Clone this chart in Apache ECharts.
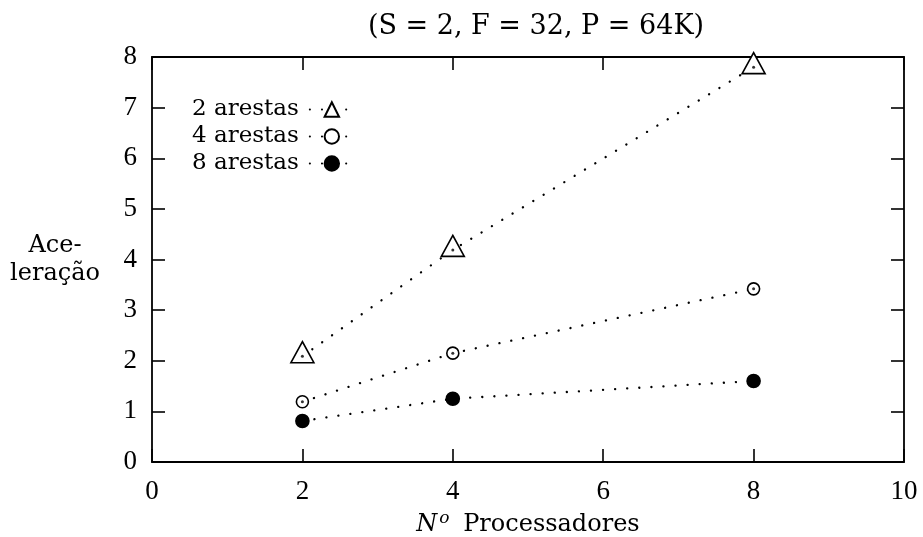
<!DOCTYPE html>
<html>
<head>
<meta charset="utf-8">
<script src="https://cdn.jsdelivr.net/npm/echarts@6/dist/echarts.min.js"></script>
<style>
  html, body { margin: 0; padding: 0; background: #fff; }
  #chart { width: 923px; height: 537px; }
</style>
</head>
<body>
<div id="chart"></div>
<script>
// Speedup (aceleração) versus number of processors, for three edge counts
const processors = [2, 4, 8];
const arestas2 = [2.09, 4.19, 7.80];
const arestas4 = [1.19, 2.15, 3.42];
const arestas8 = [0.81, 1.25, 1.60];
const seriesNames = ['2 arestas', '4 arestas', '8 arestas'];
const xTicks = [0, 2, 4, 6, 8, 10];
const yTicks = [0, 1, 2, 3, 4, 5, 6, 7, 8];
const titleText = '(S = 2, F = 32, P = 64K)';

const textFont = '"DejaVu Serif", serif';
const numFont = '"Liberation Serif", "DejaVu Serif", serif';
const pairs = vals => processors.map((x, i) => [x, vals[i]]);

const dotted = { color: '#000', width: 2.3, type: [0.1, 12], cap: 'round' };

function mainSeries(name, vals, symbol, size, filled, offset) {
  return {
    name: name,
    type: 'line',
    data: pairs(vals),
    symbol: symbol,
    symbolSize: size,
    symbolOffset: offset || [0, 0],
    showSymbol: true,
    lineStyle: dotted,
    itemStyle: {
      color: filled ? '#000' : '#fff',
      borderColor: '#000',
      borderWidth: 1.6
    },
    z: 3
  };
}

// small centre dot drawn inside the open markers
function centreDots(vals) {
  return {
    name: 'centre',
    type: 'scatter',
    data: pairs(vals),
    symbol: 'circle',
    symbolSize: 3,
    itemStyle: { color: '#000' },
    silent: true,
    z: 4
  };
}

const chart = echarts.init(document.getElementById('chart'));
const axisLine = { onZero: false, lineStyle: { color: '#000', width: 1.8 } };
const tick = { inside: true, length: 13, lineStyle: { color: '#000', width: 1.6 } };

chart.setOption({
  animation: false,
  backgroundColor: '#fff',
  title: {
    text: titleText,
    left: 531,
    textAlign: 'center',
    top: 8,
    textStyle: { fontFamily: textFont, fontSize: 27, fontWeight: 'normal', color: '#000' }
  },
  legend: {
    data: seriesNames,
    orient: 'vertical',
    left: 187,
    top: 93,
    align: 'right',
    itemWidth: 44,
    itemHeight: 18,
    itemGap: 4,
    textStyle: { fontFamily: textFont, fontSize: 23, color: '#000', padding: [0, 6, 0, 0] }
  },
  grid: { left: 152, right: 19, top: 57, bottom: 75, outerBoundsMode: 'none', containLabel: false },
  xAxis: [{
    type: 'value', min: 0, max: 10, interval: 2,
    axisLine: axisLine, axisTick: tick,
    splitLine: { show: false },
    axisLabel: {
      margin: 16, fontFamily: numFont, fontSize: 27, color: '#000',
      formatter: v => xTicks.includes(v) ? String(v) : ''
    },
    name: '{i|N}{s|o} Processadores',
    nameLocation: 'middle',
    nameGap: 44,
    nameTextStyle: {
      fontFamily: textFont, fontSize: 24, color: '#000',
      rich: {
        i: { fontFamily: textFont, fontSize: 24, fontStyle: 'italic', color: '#000' },
        s: { fontFamily: textFont, fontSize: 17, fontStyle: 'italic', color: '#000', verticalAlign: 'top', padding: [0, 6, 12, 2] }
      }
    }
  }, {
    type: 'value', min: 0, max: 10, interval: 2, position: 'top',
    axisLine: axisLine, axisTick: tick, axisLabel: { show: false },
    splitLine: { show: false }
  }],
  yAxis: [{
    type: 'value', min: 0, max: 8, interval: 1,
    axisLine: axisLine, axisTick: tick,
    splitLine: { show: false },
    axisLabel: {
      margin: 15, fontFamily: numFont, fontSize: 27, color: '#000',
      formatter: v => yTicks.includes(v) ? String(v) : ''
    },
    name: 'Ace-\nleração',
    nameLocation: 'middle',
    nameRotate: 0,
    nameGap: 97,
    nameTextStyle: {
      fontFamily: textFont, fontSize: 24, color: '#000', align: 'center', lineHeight: 28
    }
  }, {
    type: 'value', min: 0, max: 8, interval: 1, position: 'right',
    axisLine: axisLine, axisTick: tick, axisLabel: { show: false },
    splitLine: { show: false }
  }],
  series: [
    mainSeries(seriesNames[0], arestas2, 'triangle', [23, 21], false, [0, -4]),
    mainSeries(seriesNames[1], arestas4, 'circle', 12, false),
    mainSeries(seriesNames[2], arestas8, 'circle', 13, true),
    centreDots(arestas2),
    centreDots(arestas4)
  ]
});
</script>
</body>
</html>
